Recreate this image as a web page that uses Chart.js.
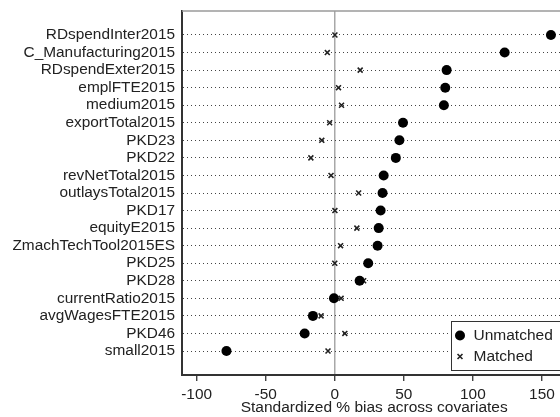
<!DOCTYPE html>
<html>
<head>
<meta charset="utf-8">
<script src="https://cdn.jsdelivr.net/npm/chart.js@4/dist/chart.umd.min.js"></script>
<style>
  html, body { margin: 0; padding: 0; background: #fff; overflow: hidden; }
  #wrap { width: 560px; height: 417px; overflow: hidden; }
  canvas { display: block; }
</style>
</head>
<body>
<div id="wrap"><canvas id="bias" width="572" height="417"></canvas></div>
<script>
// covariates, top to bottom
const categories = [
  'RDspendInter2015', 'C_Manufacturing2015', 'RDspendExter2015', 'emplFTE2015',
  'medium2015', 'exportTotal2015', 'PKD23', 'PKD22', 'revNetTotal2015',
  'outlaysTotal2015', 'PKD17', 'equityE2015', 'ZmachTechTool2015ES', 'PKD25',
  'PKD28', 'currentRatio2015', 'avgWagesFTE2015', 'PKD46', 'small2015'
];
// standardized % bias before matching
const unmatched = [156.5, 123, 81, 80, 79, 49.4, 46.8, 44.2, 35.4, 34.6, 33.2, 31.8, 31, 24.2, 18, -0.6, -15.8, -21.8, -78.4];
// standardized % bias after matching
const matched = [0.1, -5.4, 18.4, 2.7, 4.9, -3.7, -9.4, -17.3, -2.7, 17.3, 0.1, 16, 4.2, 0, 20.9, 4.6, -9.9, 7.3, -4.9];
const xTicks = [-100, -50, 0, 50, 100, 150];

const FONT = "'Liberation Sans', Arial, sans-serif";
const INK = '#222';

const toPoints = vals => vals.map((v, i) => ({ x: v, y: i }));

// scales add room for their first/last labels; the plot uses fixed margins instead
const noEdgePadding = s => {
  s.paddingTop = 0;
  s.paddingBottom = 0;
  s.paddingLeft = 0;
  s.paddingRight = 0;
};

// white background + grey top frame line
const frame = {
  id: 'frame',
  beforeDraw(chart) {
    const c = chart.ctx;
    c.save();
    c.fillStyle = '#fff';
    c.fillRect(0, 0, chart.width, chart.height);
    c.restore();
  },
  afterDraw(chart) {
    const { ctx: c, chartArea: a } = chart;
    c.save();
    c.strokeStyle = '#9a9a9a';
    c.lineWidth = 1.5;
    c.beginPath();
    c.moveTo(a.left, a.top);
    c.lineTo(a.right, a.top);
    c.stroke();
    c.restore();
  }
};

// legend box in the lower right corner of the plot
const cornerLegend = {
  id: 'cornerLegend',
  afterDraw(chart) {
    const { ctx: c, chartArea: a } = chart;
    const w = 110, h = 49;
    const left = Math.round(a.right - 5 - w), top = Math.round(a.bottom - 5 - h);
    c.save();
    c.fillStyle = '#fff';
    c.fillRect(left, top, w, h);
    c.strokeStyle = '#333';
    c.lineWidth = 1;
    c.strokeRect(left + 0.5, top + 0.5, w, h);
    c.font = '15.5px ' + FONT;
    c.textBaseline = 'middle';
    chart.data.datasets.forEach((ds, i) => {
      const y = top + 14.5 + i * 21;
      c.fillStyle = ds.backgroundColor;
      c.strokeStyle = ds.borderColor;
      c.lineWidth = ds.borderWidth;
      Chart.helpers.drawPoint(c, { pointStyle: ds.pointStyle, radius: ds.pointRadius, borderWidth: ds.borderWidth, rotation: 0 }, left + 9, y);
      c.fillStyle = INK;
      c.fillText(ds.label, left + 22.5, y);
    });
    c.restore();
  }
};

new Chart(document.getElementById('bias'), {
  type: 'scatter',
  data: {
    datasets: [
      {
        label: 'Unmatched',
        data: toPoints(unmatched),
        pointStyle: 'circle',
        pointRadius: 5,
        backgroundColor: '#000',
        borderColor: '#000',
        borderWidth: 0
      },
      {
        label: 'Matched',
        data: toPoints(matched),
        pointStyle: 'crossRot',
        pointRadius: 3.5,
        backgroundColor: INK,
        borderColor: INK,
        borderWidth: 1.6
      }
    ]
  },
  options: {
    responsive: false,
    animation: false,
    layout: { padding: { top: 11, right: 0, left: 0, bottom: 0 } },
    plugins: { legend: { display: false }, tooltip: { enabled: false } },
    scales: {
      x: {
        type: 'linear',
        min: -110.6,
        max: 167.7,
        afterBuildTicks: s => { s.ticks = xTicks.map(v => ({ value: v })); },
        afterFit: s => { s.height = 42; noEdgePadding(s); },
        grid: {
          color: c => (c.tick && c.tick.value === 0 ? '#a8a8a8' : 'transparent'),
          lineWidth: 1.5,
          tickColor: INK,
          tickLength: 6,
          tickWidth: 1.2
        },
        border: { color: '#333', width: 2 },
        ticks: { color: INK, font: { family: FONT, size: 15.4 }, padding: 5 },
        title: {
          display: true,
          text: 'Standardized % bias across covariates',
          color: INK,
          font: { family: FONT, size: 15.5 },
          padding: 0
        }
      },
      y: {
        type: 'linear',
        reverse: true,
        min: -1.367,
        max: categories.length - 1 + 1.367,
        afterBuildTicks: s => { s.ticks = categories.map((_, i) => ({ value: i })); },
        afterFit: s => { s.width = 182; noEdgePadding(s); },
        ticks: {
          autoSkip: false,
          callback: v => categories[v],
          color: INK,
          font: { family: FONT, size: 15.4 },
          padding: 7
        },
        grid: { color: '#444', lineWidth: 1, drawTicks: false },
        border: { color: '#333', width: 2, dash: [1, 3] }
      }
    }
  },
  plugins: [frame, cornerLegend]
});
</script>
</body>
</html>
